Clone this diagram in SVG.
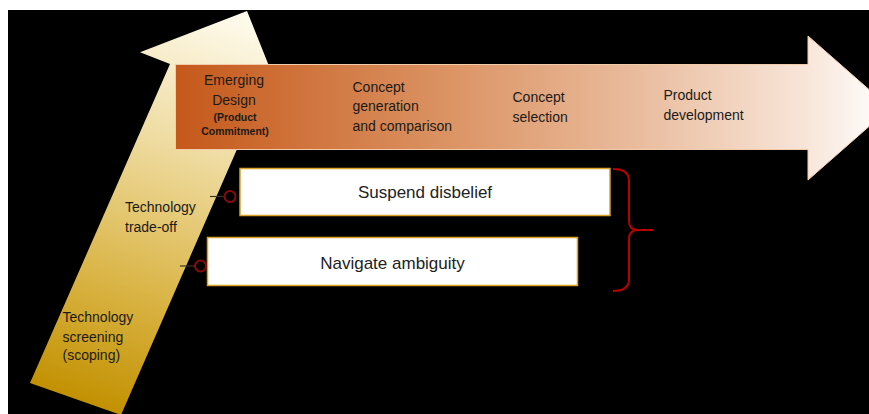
<svg xmlns="http://www.w3.org/2000/svg" width="869" height="414" viewBox="0 0 869 414">
  <style>
    .lbl { font-family: "Liberation Sans", Arial, sans-serif; font-size: 14px; fill: #1c1a18; }
    .lbls { font-family: "Liberation Sans", Arial, sans-serif; font-size: 10.5px; font-weight: bold; fill: #1c1a18; }
    .boxtxt { font-family: "Liberation Sans", Arial, sans-serif; font-size: 17px; fill: #222; text-anchor: middle; }
    .box { fill: #ffffff; stroke: #d9a224; stroke-width: 1.5; }
    .ring { fill: none; stroke: #8c0a0a; stroke-width: 2; }
    .stub { stroke: #3a3428; stroke-width: 1.2; }
  </style>
  <defs>
    <linearGradient id="gUp" gradientUnits="userSpaceOnUse" x1="247" y1="11" x2="110" y2="414">
      <stop offset="0" stop-color="#fffcf0"/>
      <stop offset="0.35" stop-color="#efdca2"/>
      <stop offset="0.7" stop-color="#dab547"/>
      <stop offset="1" stop-color="#c29000"/>
    </linearGradient>
    <linearGradient id="gRight" gradientUnits="userSpaceOnUse" x1="175" y1="0" x2="880" y2="0">
      <stop offset="0" stop-color="#c5581a"/>
      <stop offset="0.4" stop-color="#dc9566"/>
      <stop offset="0.65" stop-color="#e9bb9c"/>
      <stop offset="0.9" stop-color="#f8e6da"/>
      <stop offset="1" stop-color="#fffdfb"/>
    </linearGradient>
  </defs>

  <rect x="0" y="0" width="869" height="414" fill="#ffffff"/>
  <rect x="8" y="10" width="861" height="404" fill="#000000"/>

  <g id="technology-arrow">
    <polygon points="247,11 289.6,117.5 257,103.5 121,415 30,383 170,64 140,52.3" fill="url(#gUp)"/>
    <text class="lbl" x="125" y="212">Technology</text>
    <text class="lbl" x="125" y="231.5">trade-off</text>
    <text class="lbl" x="62.5" y="321.5">Technology</text>
    <text class="lbl" x="62.5" y="341.5">screening</text>
    <text class="lbl" x="62.5" y="360">(scoping)</text>
  </g>

  <g id="product-arrow">
    <polygon points="175.5,64.5 808,64.5 808,36 890,108 808,180 808,149.5 175.5,149.5" fill="url(#gRight)" stroke="#f2cba8" stroke-width="1"/>
    <text class="lbl" x="234" y="84.5" text-anchor="middle">Emerging</text>
    <text class="lbl" x="234" y="105" text-anchor="middle">Design</text>
    <text class="lbls" x="235" y="121" text-anchor="middle">(Product</text>
    <text class="lbls" x="235" y="134.5" text-anchor="middle">Commitment)</text>
    <text class="lbl" x="352.5" y="91.5">Concept</text>
    <text class="lbl" x="352.5" y="111">generation</text>
    <text class="lbl" x="352.5" y="131">and comparison</text>
    <text class="lbl" x="512.5" y="101.5">Concept</text>
    <text class="lbl" x="512.5" y="121.5">selection</text>
    <text class="lbl" x="663.5" y="100">Product</text>
    <text class="lbl" x="663.5" y="120">development</text>
  </g>

  <g id="box-suspend">
    <rect class="box" x="240" y="168.5" width="370" height="47"/>
    <text class="boxtxt" x="425" y="198">Suspend disbelief</text>
  </g>

  <g id="box-navigate">
    <rect class="box" x="207.5" y="237.5" width="370" height="48"/>
    <text class="boxtxt" x="392.5" y="268.5">Navigate ambiguity</text>
  </g>

  <g id="brace">
    <path d="M613,169 Q629,169 629,181 L629,221 Q629,230 638,230 L653,230 M638,230 Q629,230 629,239 L629,279 Q629,291 613,291" fill="none" stroke="#b80000" stroke-width="2"/>
  </g>

  <g id="connectors">
    <line class="stub" x1="210" y1="196.5" x2="224.5" y2="196.5"/>
    <circle class="ring" cx="230" cy="196.5" r="5.5"/>
    <line class="stub" x1="180" y1="266" x2="195" y2="266"/>
    <circle class="ring" cx="200.5" cy="266" r="5.5"/>
  </g>
</svg>
